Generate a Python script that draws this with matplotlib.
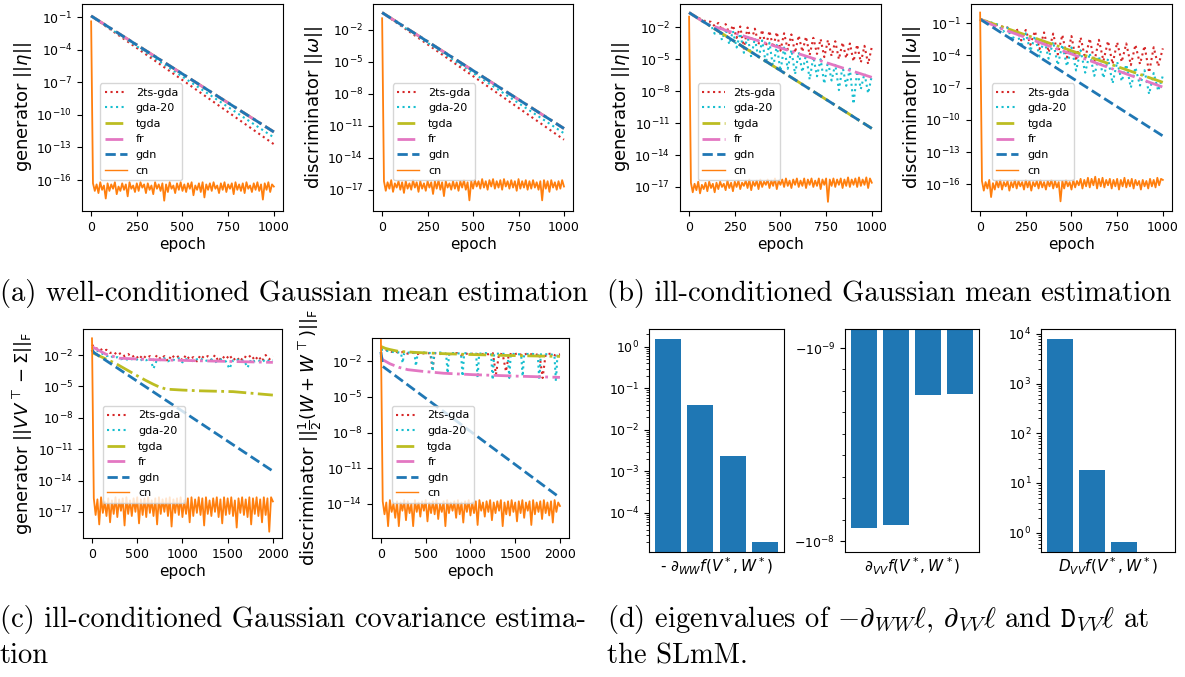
import numpy as np
import matplotlib
matplotlib.use('Agg')
import matplotlib.pyplot as plt
from matplotlib.ticker import NullLocator, FixedLocator, FixedFormatter

# ---- data (log10 of the norms) ----
# (a) well-conditioned mean estimation, generator
a1_line_x = [0, 1000]
a1_2ts = [-0.9, -12.7]
a1_gda = [-0.9, -12.08]
a1_tgda = [-0.9, -11.57]
a1_fr = [-0.9, -11.57]
a1_gdn = [-0.9, -11.57]
a1_cn = [-1.4,
         -16.3, -17.0, -16.4, -17.2, -16.2, -16.9, -16.5, -17.7, -16.3, -17.0,
         -16.4, -16.8, -16.2, -17.3, -16.6, -17.0, -16.3, -16.9, -16.4, -17.5,
         -16.2, -16.8, -16.5, -17.1, -16.3, -17.0, -16.2, -16.7, -16.4, -17.2,
         -16.3, -16.9, -16.5, -17.3, -16.2, -16.8, -16.4, -17.0, -16.3, -17.9,
         -16.4, -17.1, -16.2, -16.8, -16.5, -17.2, -16.3, -16.9, -16.2, -17.0,
         -16.4, -17.1, -16.3, -16.8, -16.2, -17.4, -16.5, -16.9, -16.3, -17.1,
         -16.2, -17.6, -16.4, -16.9, -16.3, -17.0, -16.2, -16.8, -16.5, -17.2,
         -16.3, -16.9, -16.2, -17.1, -16.4, -16.8, -16.3, -17.3, -16.2, -16.9,
         -16.4, -17.0, -16.3, -17.2, -16.2, -16.8, -16.5, -17.1, -16.3, -16.9,
         -16.2, -17.0, -16.4, -17.8, -16.3, -16.9, -16.2, -17.1, -16.4, -16.6]

# (a) discriminator
a2_line_x = [0, 1000]
a2_2ts = [-0.37, -12.3]
a2_gda = [-0.37, -11.7]
a2_tgda = [-0.37, -11.25]
a2_fr = [-0.37, -11.25]
a2_gdn = [-0.37, -11.25]
a2_cn = [-0.9,
         -16.2, -17.1, -16.3, -16.9, -16.1, -17.2, -16.4, -16.8, -16.2, -17.0,
         -16.3, -17.3, -16.2, -16.9, -16.4, -17.0, -16.1, -16.8, -16.3, -17.2,
         -16.2, -16.9, -16.4, -17.1, -16.2, -16.8, -16.3, -17.4, -16.2, -16.9,
         -16.1, -17.0, -16.3, -17.6, -16.2, -16.8, -16.4, -17.0, -16.2, -16.9,
         -16.3, -17.1, -16.2, -16.8, -16.1, -17.0, -16.3, -18.0, -16.2, -16.9,
         -16.1, -16.7, -16.2, -16.9, -16.0, -16.8, -16.2, -17.0, -16.1, -16.7,
         -16.0, -16.9, -16.2, -16.8, -16.1, -17.0, -16.0, -16.7, -16.2, -16.9,
         -16.1, -16.8, -16.2, -17.1, -16.0, -16.9, -16.2, -16.8, -16.1, -17.0,
         -16.2, -16.9, -16.1, -16.8, -16.3, -17.0, -16.2, -18.0, -16.1, -16.9,
         -16.2, -17.2, -16.1, -16.8, -16.3, -17.0, -16.2, -16.9, -16.1, -16.7]

# (b) ill-conditioned mean estimation, generator (oscillating series every 20 epochs)
b1_2ts = [-0.62, -0.81, -1.00, -1.19, -1.38, -1.43, -1.49, -1.9, -1.59, -2.3,
          -1.70, -2.6, -1.81, -3.0, -1.92, -4.0, -2.02, -3.3, -2.13, -3.6,
          -2.24, -3.8, -2.34, -3.9, -2.45, -4.2, -2.56, -4.1, -2.67, -4.4,
          -2.77, -4.3, -2.88, -4.6, -2.99, -4.5, -3.10, -4.8, -3.20, -4.7,
          -3.31, -5.0, -3.42, -4.9, -3.52, -5.2, -3.63, -5.3, -3.74, -5.45, -3.85]
b1_gda = [-0.62, -0.84, -1.06, -1.28, -1.50, -1.71, -1.80, -2.6, -1.90, -3.2,
          -2.12, -3.6, -2.35, -3.9, -2.57, -4.4, -2.79, -4.8, -3.01, -5.0,
          -3.23, -5.4, -3.45, -5.8, -3.67, -6.1, -3.90, -5.9, -4.12, -6.4,
          -4.34, -6.2, -4.56, -6.9, -4.78, -6.6, -5.00, -7.3, -5.22, -7.0,
          -5.45, -7.9, -5.67, -7.5, -5.89, -9.2, -6.11, -7.8, -6.33, -8.2, -6.55]
b1_tgda_x = [0, 1000]
b1_tgda = [-0.62, -11.5]
b1_fr_x = [0, 100, 1000]
b1_fr = [-0.62, -1.72, -6.7]
b1_gdn_x = [0, 1000]
b1_gdn = [-0.62, -11.5]
b1_cn = [-1.0,
         -16.6, -17.5, -16.7, -17.3, -16.5, -17.6, -16.8, -17.2, -16.6, -17.4,
         -16.5, -17.1, -16.7, -17.5, -16.6, -17.2, -16.5, -17.0, -16.7, -17.3,
         -16.4, -17.1, -16.6, -17.4, -16.5, -17.0, -16.4, -17.2, -16.6, -16.9,
         -16.4, -17.1, -16.3, -17.3, -16.5, -16.9, -16.4, -17.2, -16.3, -17.0,
         -16.5, -16.8, -16.3, -17.1, -16.4, -16.9, -16.2, -17.2, -16.4, -16.8,
         -16.3, -17.0, -16.2, -16.9, -16.4, -17.1, -16.3, -16.8, -16.2, -17.0,
         -16.4, -16.9, -16.2, -17.1, -16.3, -16.8, -16.2, -17.0, -16.4, -16.9,
         -16.2, -17.2, -16.3, -16.8, -16.2, -18.4, -16.3, -16.9, -16.2, -17.0,
         -16.3, -16.8, -16.2, -17.1, -16.3, -16.9, -16.1, -17.0, -16.3, -16.8,
         -16.2, -17.0, -16.1, -16.9, -16.3, -16.8, -16.1, -17.1, -16.2, -16.6]

# (b) discriminator (oscillating series every 25 epochs)
b2_2ts = [-0.60, -0.75, -0.90, -1.05, -1.20, -1.33, -1.39, -2.0, -1.50, -2.6,
          -1.62, -3.0, -1.73, -3.4, -1.85, -3.7, -1.96, -3.9, -2.08, -4.2,
          -2.19, -4.5, -2.31, -4.3, -2.42, -4.6, -2.54, -4.5, -2.65, -4.8,
          -2.77, -4.6, -2.88, -4.9, -3.00, -4.8, -3.11, -5.6, -3.23, -5.0, -3.34]
b2_gda = [-0.60, -0.73, -0.87, -1.00, -1.13, -1.8, -1.40, -2.6, -1.66, -3.2,
          -1.93, -3.6, -2.19, -4.1, -2.46, -4.3, -2.72, -4.9, -2.99, -5.0,
          -3.25, -5.4, -3.52, -5.6, -3.78, -5.9, -4.05, -6.1, -4.31, -6.6,
          -4.58, -6.4, -4.84, -7.0, -5.11, -6.8, -5.37, -7.6, -5.64, -7.3, -5.90]
b2_tgda_x = [0, 1000]
b2_tgda = [-0.62, -6.5]
b2_fr_x = [0, 100, 1000]
b2_fr = [-0.62, -1.4, -6.95]
b2_gdn_x = [0, 1000]
b2_gdn = [-0.62, -11.5]
b2_cn = [0.0,
         -15.7, -16.6, -15.8, -16.4, -15.6, -17.2, -15.9, -16.5, -15.7, -16.3,
         -15.6, -16.5, -15.8, -16.2, -15.7, -16.6, -15.8, -16.3, -15.6, -16.4,
         -15.7, -16.2, -15.8, -16.5, -15.6, -16.3, -15.7, -16.6, -15.8, -16.2,
         -15.7, -16.4, -15.6, -16.3, -15.8, -16.5, -15.7, -16.2, -15.6, -16.4,
         -15.7, -16.3, -15.8, -17.6, -15.7, -16.4, -15.6, -16.2, -15.8, -16.5,
         -15.6, -16.3, -15.7, -16.1, -15.5, -16.4, -15.6, -16.2, -15.4, -16.3,
         -15.5, -16.1, -15.3, -16.4, -15.5, -16.2, -15.4, -16.3, -15.6, -16.1,
         -15.5, -16.4, -15.6, -16.2, -15.5, -16.5, -15.6, -16.2, -15.4, -16.3,
         -15.6, -16.2, -15.5, -16.4, -15.6, -16.1, -15.7, -16.5, -15.6, -16.2,
         -15.7, -16.4, -15.5, -16.2, -15.6, -16.3, -15.4, -16.1, -15.5, -15.6]

# (c) covariance estimation, generator (2ts / gda every 40 epochs)
c1_2ts = [-1.0, -1.4, -1.3, -1.6, -1.5, -1.8, -1.7, -2.0, -1.8, -2.1,
          -1.9, -2.2, -2.0, -2.4, -2.0, -2.3, -2.1, -2.5, -2.0, -2.4,
          -2.1, -2.6, -2.0, -2.3, -2.1, -2.5, -2.0, -2.4, -2.2, -2.6,
          -2.0, -2.3, -2.1, -2.5, -2.0, -2.6, -2.1, -2.4, -2.0, -2.5,
          -2.2, -2.6, -2.1, -2.3, -2.0, -2.5, -2.1, -2.6, -2.0, -2.4, -2.1]
c1_gda = [-1.3, -1.5, -1.7, -1.9, -2.1, -2.0, -2.3, -2.2, -2.4, -2.3,
          -2.5, -2.4, -2.3, -2.6, -2.4, -2.5, -2.3, -3.3, -2.4, -2.5,
          -2.3, -2.6, -2.4, -2.5, -2.3, -2.7, -2.4, -2.5, -2.6, -2.4,
          -2.3, -2.6, -2.5, -2.4, -2.7, -2.5, -2.4, -2.6, -3.3, -2.5,
          -2.4, -2.6, -2.5, -3.2, -2.4, -2.6, -2.5, -2.7, -2.4, -2.6, -2.5]
c1_tgda_x = [0, 20, 260, 520, 600, 680, 740, 780, 820, 900, 1000, 1190, 1560, 2000]
c1_tgda = [-1.5, -1.84, -2.8, -4.08, -4.45, -4.8, -5.04, -5.15, -5.26, -5.3, -5.35, -5.42, -5.5, -5.83]
c1_fr_x = [0, 150, 300, 700, 1200, 2000]
c1_fr = [-1.2, -1.9, -2.3, -2.45, -2.55, -2.7]
c1_gdn_x = [0, 20, 2000]
c1_gdn = [-1.5, -1.75, -13.1]
c1_cn = [-0.4,
         -15.7, -17.3, -15.8, -18.2, -15.6, -17.1, -16.0, -17.4, -15.7, -18.0,
         -15.9, -17.2, -15.6, -17.5, -15.8, -16.9, -15.7, -18.3, -15.6, -17.2,
         -15.9, -17.4, -15.7, -17.0, -15.6, -18.1, -15.8, -17.3, -15.7, -17.5,
         -15.6, -17.1, -15.9, -17.4, -15.7, -18.2, -15.6, -17.2, -15.8, -17.0,
         -15.7, -17.4, -15.6, -18.4, -15.8, -17.1, -15.7, -17.3, -15.6, -17.5,
         -15.9, -17.2, -15.7, -18.0, -15.6, -17.4, -15.8, -17.1, -15.6, -17.3,
         -15.7, -18.3, -15.6, -17.2, -15.9, -17.4, -15.7, -17.0, -15.6, -17.5,
         -15.8, -18.1, -15.6, -17.3, -15.7, -17.2, -15.6, -17.4, -15.9, -18.5,
         -15.7, -17.1, -15.6, -17.3, -15.8, -17.5, -15.6, -18.2, -15.7, -17.2,
         -15.6, -17.4, -15.8, -18.0, -15.6, -17.3, -15.7, -18.9, -15.6, -16.0]

# (c) discriminator
c2_2ts_x = [0, 40, 80, 120, 160, 200, 250, 300, 350, 400, 450, 500, 550, 577, 600,
            650, 700, 750, 800, 850, 900, 950, 1000, 1050, 1100, 1150, 1200, 1250,
            1285, 1320, 1360, 1397, 1430, 1480, 1530, 1580, 1630, 1680, 1730, 1770,
            1806, 1840, 1900, 1950, 2000]
c2_2ts = [-0.8, -1.0, -1.1, -1.2, -1.15, -1.3, -1.2, -1.35, -1.25, -1.4, -1.3, -1.35,
          -1.3, -2.6, -1.3, -1.4, -1.3, -1.45, -1.35, -1.3, -1.5, -1.35, -1.4, -1.3,
          -1.45, -1.35, -1.4, -1.3, -3.1, -1.35, -1.4, -2.85, -1.35, -1.45, -1.3, -1.5,
          -1.35, -1.4, -1.45, -1.35, -3.4, -1.4, -1.35, -1.5, -1.4]
c2_gda_x = [0, 60, 120, 200, 225, 242, 260, 320, 375, 391, 410, 480, 560, 577, 595,
            660, 728, 745, 762, 830, 895, 912, 930, 1000, 1063, 1080, 1097, 1170, 1231,
            1248, 1265, 1350, 1417, 1434, 1451, 1520, 1566, 1583, 1600, 1680, 1752,
            1769, 1786, 1870, 1938, 1955, 1972, 2000]
c2_gda = [-1.0, -1.1, -1.2, -1.25, -1.3, -2.14, -1.3, -1.25, -1.3, -2.4, -1.3, -1.25,
          -1.3, -2.84, -1.3, -1.25, -1.35, -3.0, -1.3, -1.3, -1.35, -3.26, -1.3, -1.35,
          -1.35, -3.4, -1.35, -1.3, -1.4, -3.55, -1.35, -1.35, -1.4, -3.4, -1.35, -1.4,
          -1.4, -3.26, -1.4, -1.35, -1.45, -3.55, -1.4, -1.4, -1.45, -3.7, -1.4, -1.45]
c2_tgda_x = [0, 50, 100, 200, 400, 700, 1000, 1400, 2000]
c2_tgda = [-0.74, -0.9, -1.0, -1.16, -1.25, -1.35, -1.42, -1.5, -1.58]
c2_fr_x = [0, 20, 100, 200, 300, 465, 700, 1024, 1583, 2000]
c2_fr = [-1.5, -1.86, -2.2, -2.5, -2.7, -2.84, -3.0, -3.12, -3.26, -3.35]
c2_gdn_x = [0, 20, 2000]
c2_gdn = [-1.2, -2.42, -13.5]
c2_cn = [-0.2,
         -13.8, -14.9, -13.9, -15.9, -13.7, -14.7, -14.0, -15.2, -13.8, -15.9,
         -13.9, -14.6, -13.7, -15.4, -13.8, -14.8, -14.0, -15.9, -13.7, -14.7,
         -13.9, -15.1, -13.8, -14.6, -13.7, -15.5, -13.9, -14.8, -13.8, -14.9,
         -13.7, -15.3, -14.0, -14.7, -13.8, -15.9, -13.7, -14.8, -13.9, -14.6,
         -13.8, -15.2, -13.7, -14.9, -13.9, -15.6, -13.8, -14.7, -13.7, -15.0,
         -13.9, -14.8, -13.8, -15.8, -13.7, -14.6, -13.9, -15.1, -13.8, -14.7,
         -13.7, -15.4, -13.9, -14.8, -13.8, -14.6, -13.7, -15.9, -13.9, -14.9,
         -13.8, -15.0, -13.7, -14.7, -13.9, -15.5, -13.8, -14.8, -13.7, -15.2,
         -13.9, -14.6, -13.8, -15.8, -13.7, -14.9, -13.9, -14.7, -13.8, -15.3,
         -13.7, -14.8, -13.9, -15.0, -13.8, -15.6, -13.7, -14.7, -13.9, -14.2]

# (d) eigenvalues
eig_ww = [1.55, 0.04, 0.0023, 2.0e-5]
eig_vv = [-9.38e-9, -9.26e-9, -3.19e-9, -3.15e-9]
eig_dvv = [7900, 18.6, 0.66, 0.01]

names = ['2ts-gda', 'gda-20', 'tgda', 'fr', 'gdn', 'cn']
styles = {
    '2ts-gda': dict(color='#d62728', ls=':', lw=1.5),
    'gda-20': dict(color='#17becf', ls=':', lw=1.5),
    'tgda': dict(color='#bcbd22', ls='-.', lw=2),
    'fr': dict(color='#e377c2', ls='-.', lw=2),
    'gdn': dict(color='#1f77b4', ls='--', lw=2),
    'cn': dict(color='#ff7f0e', ls='-', lw=1.3),
}

x20 = np.arange(len(b1_2ts)) * 20
x25 = np.arange(len(b2_2ts)) * 25
x40 = np.arange(len(c1_2ts)) * 40

panels = [
    # rect, series, ylabel, ylim (log10), yticks (log10), legend anchor, xmax
    dict(rect=[0.0692, 0.6883, 0.1696, 0.3058], ylabel=r'generator $||\eta||$',
         lim=(-18.85, 0.2), ticks=[-1, -4, -7, -10, -13, -16], leg=(0.09, 0.15), xmax=1000,
         data={'2ts-gda': (a1_line_x, a1_2ts), 'gda-20': (a1_line_x, a1_gda),
               'tgda': (a1_line_x, a1_tgda), 'fr': (a1_line_x, a1_fr),
               'gdn': (a1_line_x, a1_gdn), 'cn': (np.arange(len(a1_cn)) * 10, a1_cn)}),
    dict(rect=[0.3148, 0.6883, 0.1688, 0.3058], ylabel=r'discriminator $||\omega||$',
         lim=(-19.0, 0.44), ticks=[-2, -5, -8, -11, -14, -17], leg=(0.098, 0.15), xmax=1000,
         data={'2ts-gda': (a2_line_x, a2_2ts), 'gda-20': (a2_line_x, a2_gda),
               'tgda': (a2_line_x, a2_tgda), 'fr': (a2_line_x, a2_fr),
               'gdn': (a2_line_x, a2_gdn), 'cn': (np.arange(len(a2_cn)) * 10, a2_cn)}),
    dict(rect=[0.5738, 0.6883, 0.1696, 0.3058], ylabel=r'generator $||\eta||$',
         lim=(-19.26, 0.19), ticks=[-2, -5, -8, -11, -14, -17], leg=(0.09, 0.15), xmax=1000,
         data={'2ts-gda': (x20, b1_2ts), 'gda-20': (x20, b1_gda),
               'tgda': (b1_tgda_x, b1_tgda), 'fr': (b1_fr_x, b1_fr),
               'gdn': (b1_gdn_x, b1_gdn), 'cn': (np.arange(len(b1_cn)) * 10, b1_cn)}),
    dict(rect=[0.8194, 0.6883, 0.1696, 0.3058], ylabel=r'discriminator $||\omega||$',
         lim=(-18.5, 0.8), ticks=[-1, -4, -7, -10, -13, -16], leg=(0.103, 0.15), xmax=1000,
         data={'2ts-gda': (x25, b2_2ts), 'gda-20': (x25, b2_gda),
               'tgda': (b2_tgda_x, b2_tgda), 'fr': (b2_fr_x, b2_fr),
               'gdn': (b2_gdn_x, b2_gdn), 'cn': (np.arange(len(b2_cn)) * 10, b2_cn)}),
    dict(rect=[0.0700, 0.2053, 0.1679, 0.3087],
         ylabel=r'generator $||VV^{\top}-\Sigma||_{\mathsf{F}}$',
         lim=(-19.5, 0.49), ticks=[-2, -5, -8, -11, -14, -17], leg=(0.099, 0.169), xmax=2000,
         data={'2ts-gda': (x40, c1_2ts), 'gda-20': (x40, c1_gda),
               'tgda': (c1_tgda_x, c1_tgda), 'fr': (c1_fr_x, c1_fr),
               'gdn': (c1_gdn_x, c1_gdn), 'cn': (np.arange(len(c1_cn)) * 20, c1_cn)}),
    dict(rect=[0.3139, 0.2053, 0.1662, 0.2954],
         ylabel=r'discriminator $||\frac{1}{2}(W+W^{\top})||_{\mathsf{F}}$',
         lim=(-16.9, -0.03), ticks=[-2, -5, -8, -11, -14], leg=(0.1, 0.177), xmax=2000,
         data={'2ts-gda': (c2_2ts_x, c2_2ts), 'gda-20': (c2_gda_x, c2_gda),
               'tgda': (c2_tgda_x, c2_tgda), 'fr': (c2_fr_x, c2_fr),
               'gdn': (c2_gdn_x, c2_gdn), 'cn': (np.arange(len(c2_cn)) * 20, c2_cn)}),
]

fig = plt.figure(figsize=(11.85, 6.77), dpi=100)

for p in panels:
    ax = fig.add_axes(p['rect'])
    for n in names:
        x, ly = p['data'][n]
        ax.plot(x, 10.0 ** np.asarray(ly), label=n, **styles[n])
    ax.set_yscale('log')
    ax.set_ylim(10.0 ** p['lim'][0], 10.0 ** p['lim'][1])
    ax.yaxis.set_major_locator(FixedLocator([10.0 ** t for t in p['ticks']]))
    ax.yaxis.set_minor_locator(NullLocator())
    xm = p['xmax']
    ax.set_xlim(-0.05 * xm, 1.05 * xm)
    ax.set_xticks(np.linspace(0, xm, 5) if xm == 1000 else np.arange(0, xm + 1, 500))
    ax.tick_params(labelsize=9)
    ax.set_xlabel('epoch', fontsize=11, labelpad=2)
    ax.set_ylabel(p['ylabel'], fontsize=13, labelpad=2)
    leg = ax.legend(loc='lower left', bbox_to_anchor=p['leg'], borderaxespad=0, fontsize=8)
    leg.get_lines()[-1].set_linewidth(1.0)

# (d) bar panels
bx = np.arange(4)
ax = fig.add_axes([0.5477, 0.1846, 0.1139, 0.3294])
ax.bar(bx, eig_ww, width=0.8, color='#1f77b4')
ax.set_yscale('log')
ax.set_ylim(10 ** -4.94, 10 ** 0.43)
ax.set_xticks([])
ax.tick_params(labelsize=9)
ax.set_xlabel(r'- $\partial_{WW}f(V^*,W^*)$', fontsize=11, labelpad=3)

ax = fig.add_axes([0.7131, 0.1846, 0.1131, 0.3294])
ax.bar(bx, eig_vv, width=0.8, color='#1f77b4')
ax.set_ylim(-1.051e-8, -1.14e-10)
ax.yaxis.set_major_locator(FixedLocator([-1e-8, -1e-9]))
ax.yaxis.set_major_formatter(FixedFormatter([r'$-10^{-8}$', r'$-10^{-9}$']))
ax.yaxis.set_minor_locator(FixedLocator([-k * 1e-9 for k in range(2, 10)]))
ax.set_xticks([])
ax.tick_params(labelsize=9)
ax.set_xlabel(r'$\partial_{VV}f(V^*,W^*)$', fontsize=11, labelpad=3)

ax = fig.add_axes([0.8785, 0.1846, 0.1131, 0.3294])
ax.bar(bx, eig_dvv, width=0.8, color='#1f77b4')
ax.set_yscale('log')
ax.set_ylim(10 ** -0.39, 10 ** 4.1)
ax.set_xticks([])
ax.tick_params(labelsize=9)
ax.set_xlabel(r'$D_{VV}f(V^*,W^*)$', fontsize=11, labelpad=3)

# captions
cap = dict(fontfamily='cmr10', fontsize=20.6, math_fontfamily='cm', va='center', ha='left')
fig.text(0.0, 1 - 293 / 677, '(a) well-conditioned Gaussian mean estimation', **cap)
fig.text(0.512, 1 - 293 / 677, '(b) ill-conditioned Gaussian mean estimation', **cap)
fig.text(0.0, 1 - 620 / 677, '(c) ill-conditioned Gaussian covariance estima-', **cap)
fig.text(0.0, 1 - 656 / 677, 'tion', **cap)
fig.text(0.512, 1 - 620 / 677,
         r'(d) eigenvalues of $-\partial_{WW}\ell$, $\partial_{VV}\ell$ and $\mathtt{D}_{VV}\ell$ at',
         **cap)
fig.text(0.512, 1 - 656 / 677, 'the SLmM.', **cap)

fig.savefig('out.png', dpi=100)
